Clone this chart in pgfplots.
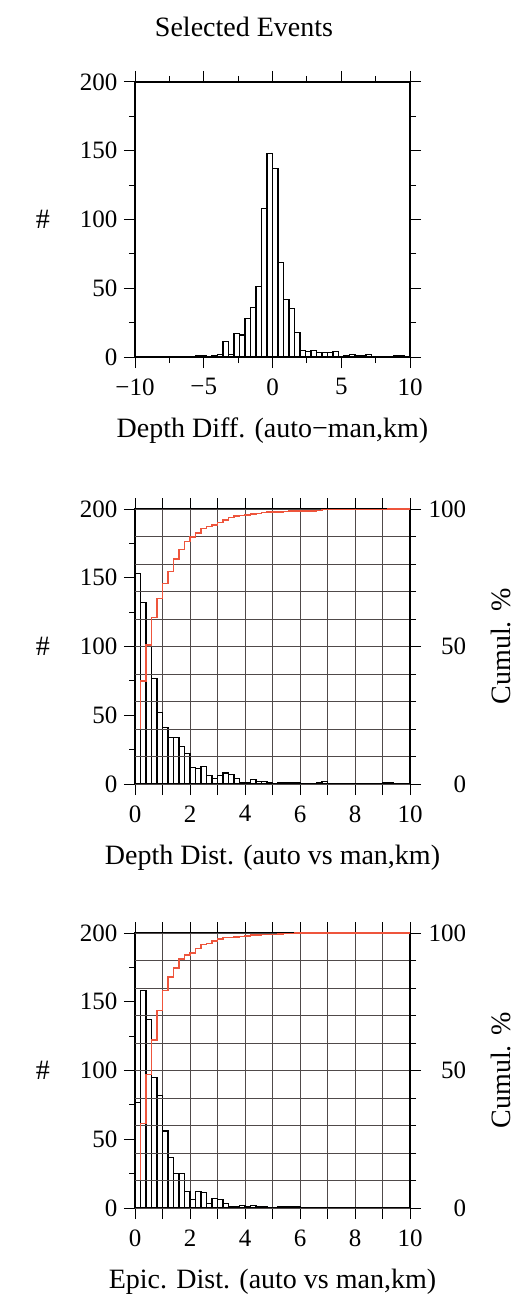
\documentclass[border=0pt]{standalone}
\usepackage{fontspec}
\setmainfont{Liberation Serif}
\usepackage{pgfplots}
\pgfplotsset{compat=1.18}
\definecolor{cumred}{RGB}{238,85,60}
\definecolor{gridc}{RGB}{80,74,74}
\pgfplotsset{
  gmt/.style={
    scale only axis, width=275pt, height=275pt,
    axis line style={line width=2pt},
    tick style={black, line width=1pt},
    major tick length=11pt, minor tick length=6pt,
    tick align=outside,
    tick label style={font=\fontsize{25}{30}\selectfont},
    xticklabel style={yshift=-7pt},
    label style={font=\fontsize{28}{34}\selectfont},
    xlabel style={at={(axis description cs:0.5,-0.291)}, anchor=base},
    ylabel style={at={(axis description cs:-0.335,0.5)}, anchor=center, rotate=-90},
    grid style={gridc, line width=0.9pt},
    minor grid style={gridc, line width=0.9pt},
  },
  lefty/.style={yticklabel style={xshift=-3pt}},
  righty/.style={yticklabel style={text width=37.5pt, align=right, xshift=4pt}},
  bars/.style={ybar interval, draw=black, fill=none, line width=1.2pt},
  cum/.style={cumred, line width=1.5pt, const plot mark right},
}
\begin{document}
\begin{tikzpicture}
\path[use as bounding box] (0,0) rectangle (519pt,-1313pt);
\node[anchor=base, font=\fontsize{28}{34}\selectfont] at (244pt,-37pt) {Selected Events};

% ---------- Panel 1 ----------
\begin{axis}[gmt, lefty, at={(135pt,-357pt)}, anchor=south west,
  xmin=-10, xmax=10, ymin=0, ymax=200,
  xtick={-10,-5,0,5,10}, xticklabels={−10,−5,0,5,10},
  minor xtick={-7.5,-2.5,2.5,7.5},
  ytick={0,50,100,150,200}, yticklabels={0,50,100,150,200},
  minor ytick={25,75,125,175},
  xlabel={Depth Diff. (auto−man,km)}, ylabel={\#}]
\addplot[bars] coordinates {
(-10.0,0) (-9.6,0) (-9.2,0) (-8.8,0) (-8.4,0) (-8.0,0) (-7.6,0) (-7.2,0)
(-6.8,0) (-6.4,0) (-6.0,0) (-5.6,1) (-5.2,1) (-4.8,0) (-4.4,1) (-4.0,2)
(-3.6,11) (-3.2,2) (-2.8,17) (-2.4,16) (-2.0,28) (-1.6,36) (-1.2,51) (-0.8,108)
(-0.4,148) (0.0,137) (0.4,69) (0.8,42) (1.2,35) (1.6,18) (2.0,5) (2.4,4)
(2.8,5) (3.2,3) (3.6,3) (4.0,3) (4.4,4) (4.8,0) (5.2,1) (5.6,2)
(6.0,1) (6.4,1) (6.8,2) (7.2,0) (7.6,0) (8.0,0) (8.4,0) (8.8,1)
(9.2,1) (9.6,0) (10.0,0)};
\end{axis}

% ---------- Panel 2 ----------
\begin{axis}[gmt, lefty, at={(135pt,-784pt)}, anchor=south west,
  xmin=0, xmax=10, ymin=0, ymax=200,
  xtick={0,...,10}, xticklabels={0,,2,,4,,6,,8,,10},
  xmajorgrids,
  ytick={0,50,100,150,200}, yticklabels={0,50,100,150,200},
  minor ytick={25,75,125,175}, ytick pos=left,
  xlabel={Depth Dist. (auto vs man,km)}, ylabel={\#}]
\addplot[bars] coordinates {
(0.0,153) (0.2,132) (0.4,100) (0.6,77) (0.8,52) (1.0,41) (1.2,34) (1.4,34)
(1.6,27) (1.8,22) (2.0,12) (2.2,11) (2.4,13) (2.6,6) (2.8,4) (3.0,6)
(3.2,8) (3.4,7) (3.6,4) (3.8,1) (4.0,1) (4.2,3) (4.4,2) (4.6,2)
(4.8,1) (5.0,0) (5.2,1) (5.4,1) (5.6,1) (5.8,1) (6.0,0) (6.2,0)
(6.4,0) (6.6,1) (6.8,2) (7.0,0) (7.2,0) (7.4,0) (7.6,0) (7.8,0)
(8.0,0) (8.2,0) (8.4,0) (8.6,0) (8.8,0) (9.0,1) (9.2,1) (9.4,0)
(9.6,0) (9.8,0) (10.0,0)};
\end{axis}
\begin{axis}[gmt, righty, at={(135pt,-784pt)}, anchor=south west,
  xmin=0, xmax=10, ymin=0, ymax=100, clip=false,
  axis x line=none, axis y line*=right,
  ytick={0,50,100}, yticklabels={0,50,100},
  minor ytick={10,20,30,40,60,70,80,90},
  ymajorgrids, yminorgrids,
  ylabel={Cumul. \%},
  ylabel style={at={(axis description cs:1.33,0.5)}, anchor=center, rotate=90}]
\addplot[cum] coordinates {
(0.2,20.08) (0.4,37.40) (0.6,50.52) (0.8,60.63) (1.0,67.45) (1.2,72.83)
(1.4,77.30) (1.6,81.76) (1.8,85.30) (2.0,88.19) (2.2,89.76) (2.4,91.21)
(2.6,92.91) (2.8,93.70) (3.0,94.23) (3.2,95.01) (3.4,96.06) (3.6,96.98)
(3.8,97.51) (4.0,97.64) (4.2,97.77) (4.4,98.16) (4.6,98.43) (4.8,98.69)
(5.0,98.82) (5.2,98.82) (5.4,98.95) (5.6,99.08) (5.8,99.21) (6.0,99.34)
(6.2,99.34) (6.4,99.34) (6.6,99.34) (6.8,99.48) (7.0,99.74) (7.2,99.74)
(7.4,99.74) (7.6,99.74) (7.8,99.74) (8.0,99.74) (8.2,99.74) (8.4,99.74)
(8.6,99.74) (8.8,99.74) (9.0,99.74) (9.2,99.87) (9.4,100) (9.6,100)
(9.8,100) (10.0,100)};
\end{axis}

% ---------- Panel 3 ----------
\begin{axis}[gmt, lefty, at={(135pt,-1208pt)}, anchor=south west,
  xmin=0, xmax=10, ymin=0, ymax=200,
  xtick={0,...,10}, xticklabels={0,,2,,4,,6,,8,,10},
  xmajorgrids,
  ytick={0,50,100,150,200}, yticklabels={0,50,100,150,200},
  minor ytick={25,75,125,175}, ytick pos=left,
  xlabel={Epic. Dist. (auto vs man,km)}, ylabel={\#}]
\addplot[bars] coordinates {
(0.0,77) (0.2,158) (0.4,137) (0.6,95) (0.8,82) (1.0,56) (1.2,37) (1.4,25)
(1.6,25) (1.8,12) (2.0,6) (2.2,12) (2.4,11) (2.6,3) (2.8,7) (3.0,6)
(3.2,3) (3.4,1) (3.6,1) (3.8,2) (4.0,1) (4.2,2) (4.4,1) (4.6,1)
(4.8,0) (5.0,0) (5.2,1) (5.4,1) (5.6,1) (5.8,1) (6.0,0) (6.2,0)
(6.4,0) (6.6,0) (6.8,0) (7.0,0) (7.2,0) (7.4,0) (7.6,0) (7.8,0)
(8.0,0) (8.2,0) (8.4,0) (8.6,0) (8.8,0) (9.0,0) (9.2,0) (9.4,0)
(9.6,0) (9.8,0) (10.0,0)};
\end{axis}
\begin{axis}[gmt, righty, at={(135pt,-1208pt)}, anchor=south west,
  xmin=0, xmax=10, ymin=0, ymax=100, clip=false,
  axis x line=none, axis y line*=right,
  ytick={0,50,100}, yticklabels={0,50,100},
  minor ytick={10,20,30,40,60,70,80,90},
  ymajorgrids, yminorgrids,
  ylabel={Cumul. \%},
  ylabel style={at={(axis description cs:1.33,0.5)}, anchor=center, rotate=90}]
\addplot[cum] coordinates {
(0.2,10.07) (0.4,30.72) (0.6,48.63) (0.8,61.05) (1.0,71.76) (1.2,79.08)
(1.4,83.92) (1.6,87.19) (1.8,90.46) (2.0,92.03) (2.2,92.81) (2.4,94.38)
(2.6,95.82) (2.8,96.21) (3.0,97.12) (3.2,97.91) (3.4,98.30) (3.6,98.43)
(3.8,98.56) (4.0,98.82) (4.2,98.95) (4.4,99.22) (4.6,99.35) (4.8,99.48)
(5.0,99.48) (5.2,99.48) (5.4,99.61) (5.6,99.74) (5.8,99.87) (6.0,100)
(6.2,100) (6.4,100) (6.6,100) (6.8,100) (7.0,100) (7.2,100)
(7.4,100) (7.6,100) (7.8,100) (8.0,100) (8.2,100) (8.4,100)
(8.6,100) (8.8,100) (9.0,100) (9.2,100) (9.4,100) (9.6,100)
(9.8,100) (10.0,100)};
\end{axis}
\end{tikzpicture}
\end{document}
